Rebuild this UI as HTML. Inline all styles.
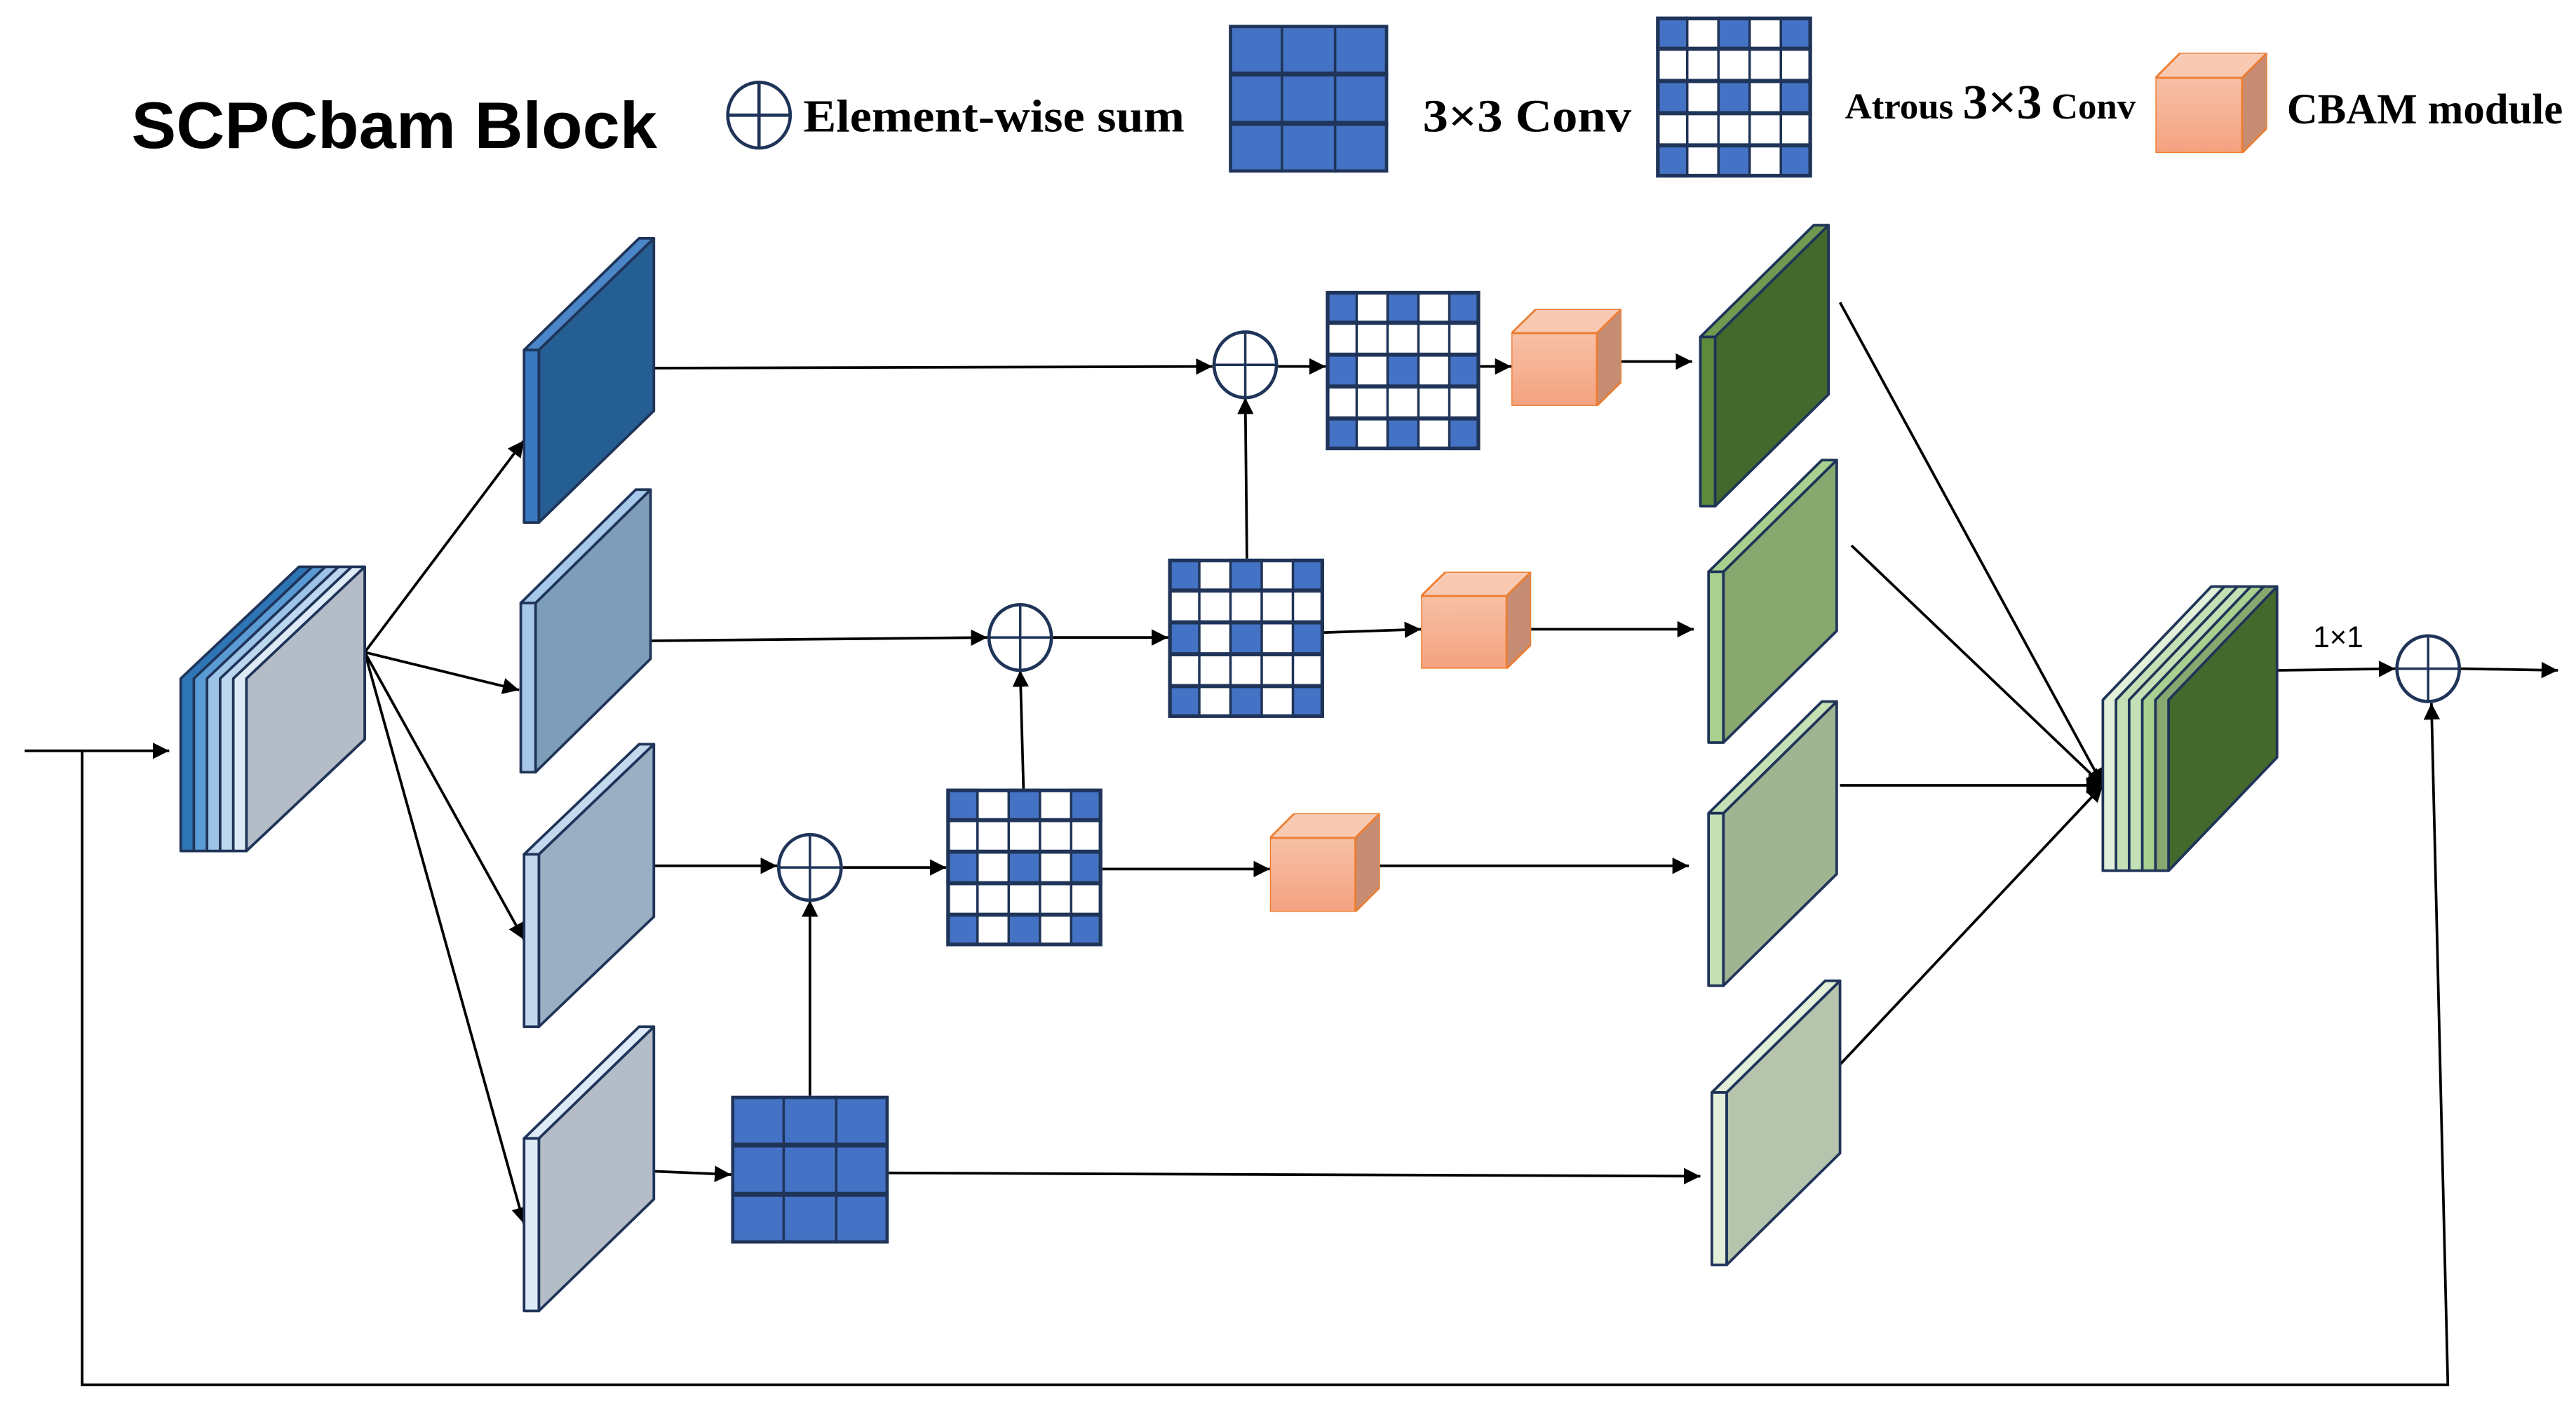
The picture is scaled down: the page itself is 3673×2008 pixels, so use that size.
<!DOCTYPE html>
<html><head><meta charset="utf-8"><style>html,body{margin:0;padding:0;background:#fff}svg{display:block}</style></head>
<body>
<svg xmlns="http://www.w3.org/2000/svg" width="3673" height="2008" viewBox="0 0 1568 857">
<defs>
<marker id="ar" viewBox="0 0 10 10" refX="10" refY="5" markerWidth="10" markerHeight="10" markerUnits="userSpaceOnUse" orient="auto"><path d="M0,0 L10,5 L0,10 z" fill="#000"/></marker>
<linearGradient id="cg" x1="0" y1="0" x2="0" y2="1"><stop offset="0" stop-color="#f7c0a6"/><stop offset="1" stop-color="#f4a27f"/></linearGradient>
<symbol id="atr" viewBox="0 0 95 97" preserveAspectRatio="none">
<rect x="0" y="0" width="95" height="97" fill="#fff"/>
<g fill="#4472c4">
<rect x="0" y="0" width="19" height="19.4"/><rect x="38" y="0" width="19" height="19.4"/><rect x="76" y="0" width="19" height="19.4"/>
<rect x="0" y="38.8" width="19" height="19.4"/><rect x="38" y="38.8" width="19" height="19.4"/><rect x="76" y="38.8" width="19" height="19.4"/>
<rect x="0" y="77.6" width="19" height="19.4"/><rect x="38" y="77.6" width="19" height="19.4"/><rect x="76" y="77.6" width="19" height="19.4"/>
</g>
<g stroke="#1f3458" stroke-width="1.5">
<line x1="19" y1="0" x2="19" y2="97"/><line x1="38" y1="0" x2="38" y2="97"/><line x1="57" y1="0" x2="57" y2="97"/><line x1="76" y1="0" x2="76" y2="97"/>
</g>
<g stroke="#1f3458" stroke-width="2.5">
<line x1="0" y1="19.4" x2="95" y2="19.4"/><line x1="0" y1="38.8" x2="95" y2="38.8"/><line x1="0" y1="58.2" x2="95" y2="58.2"/><line x1="0" y1="77.6" x2="95" y2="77.6"/>
</g>
<rect x="1" y="1" width="93" height="95" fill="none" stroke="#1f3458" stroke-width="2.5"/>
</symbol>
<symbol id="cv" viewBox="0 0 96 90" preserveAspectRatio="none">
<rect x="0" y="0" width="96" height="90" fill="#4472c4"/>
<g stroke="#1f3458" stroke-width="1.5"><line x1="32" y1="0" x2="32" y2="90"/><line x1="64" y1="0" x2="64" y2="90"/></g>
<g stroke="#1f3458" stroke-width="3"><line x1="0" y1="30" x2="96" y2="30"/><line x1="0" y1="60" x2="96" y2="60"/></g>
<rect x="1" y="1" width="94" height="88" fill="none" stroke="#1f3458" stroke-width="2"/>
</symbol>
<symbol id="cube" viewBox="0 0 67 60" preserveAspectRatio="none">
<polygon points="0,15 15,0 67,0 52,15" fill="#f8cab4" stroke="#ed7d31" stroke-width="1.2"/>
<polygon points="52,15 67,0 67,45 52,60" fill="#c68d74" stroke="#ed7d31" stroke-width="1.2"/>
<rect x="0" y="15" width="52" height="45" fill="url(#cg)" stroke="#ed7d31" stroke-width="1.2"/>
</symbol>
</defs>

<!-- Title & legend -->
<text x="80" y="90" font-family="Liberation Sans, sans-serif" font-weight="bold" font-size="40" textLength="320" lengthAdjust="spacingAndGlyphs">SCPCbam Block</text>
<g fill="none" stroke="#1f3458" stroke-width="2"><ellipse cx="462" cy="70" rx="19" ry="20"/><line x1="443" y1="70" x2="481" y2="70"/><line x1="462" y1="50" x2="462" y2="90"/></g>
<text x="489" y="80" font-family="Liberation Serif, serif" font-weight="bold" font-size="28" textLength="232" lengthAdjust="spacingAndGlyphs">Element-wise sum</text>
<use href="#cv" x="748" y="15" width="97" height="90"/>
<text x="866" y="80" font-family="Liberation Serif, serif" font-weight="bold" font-size="28" textLength="127" lengthAdjust="spacingAndGlyphs">3×3 Conv</text>
<use href="#atr" x="1008" y="10" width="95" height="98"/>
<text x="1123" y="72" font-family="Liberation Serif, serif" font-weight="bold" font-size="22" textLength="177" lengthAdjust="spacingAndGlyphs"><tspan>Atrous </tspan><tspan font-size="30">3×3</tspan><tspan> Conv</tspan></text>
<use href="#cube" x="1312" y="32" width="68" height="61"/>
<text x="1392" y="75" font-family="Liberation Serif, serif" font-weight="bold" font-size="26" textLength="168" lengthAdjust="spacingAndGlyphs">CBAM module</text>

<!-- connectors -->
<g stroke="#000" stroke-width="1.6" fill="none">
<line x1="15" y1="457" x2="103" y2="457" marker-end="url(#ar)"/>
<polyline points="50,457 50,843 1490,843 1480,428" marker-end="url(#ar)"/>
<line x1="222" y1="397" x2="319" y2="268" marker-end="url(#ar)"/>
<line x1="222" y1="397" x2="316" y2="420" marker-end="url(#ar)"/>
<line x1="222" y1="397" x2="319" y2="572" marker-end="url(#ar)"/>
<line x1="222" y1="397" x2="319" y2="745" marker-end="url(#ar)"/>
<line x1="398" y1="224" x2="738" y2="223" marker-end="url(#ar)"/>
<line x1="396" y1="390" x2="601" y2="388" marker-end="url(#ar)"/>
<line x1="398" y1="527" x2="473" y2="527" marker-end="url(#ar)"/>
<line x1="398" y1="713" x2="445" y2="715" marker-end="url(#ar)"/>
<line x1="513" y1="528" x2="576" y2="528" marker-end="url(#ar)"/>
<line x1="493" y1="667" x2="493" y2="548" marker-end="url(#ar)"/>
<line x1="541" y1="714" x2="1035" y2="716" marker-end="url(#ar)"/>
<line x1="623" y1="480" x2="621" y2="408" marker-end="url(#ar)"/>
<line x1="641" y1="388" x2="711" y2="388" marker-end="url(#ar)"/>
<line x1="671" y1="529" x2="773" y2="529" marker-end="url(#ar)"/>
<line x1="840" y1="527" x2="1028" y2="527" marker-end="url(#ar)"/>
<line x1="759" y1="340" x2="758" y2="242" marker-end="url(#ar)"/>
<line x1="806" y1="385" x2="865" y2="383" marker-end="url(#ar)"/>
<line x1="932" y1="383" x2="1031" y2="383" marker-end="url(#ar)"/>
<line x1="778" y1="223" x2="807" y2="223" marker-end="url(#ar)"/>
<line x1="901" y1="223" x2="920" y2="223" marker-end="url(#ar)"/>
<line x1="987" y1="220" x2="1030" y2="220" marker-end="url(#ar)"/>
<line x1="1120" y1="184" x2="1280" y2="478" marker-end="url(#ar)"/>
<line x1="1127" y1="332" x2="1280" y2="478" marker-end="url(#ar)"/>
<line x1="1120" y1="478" x2="1280" y2="478" marker-end="url(#ar)"/>
<line x1="1120" y1="648" x2="1280" y2="478" marker-end="url(#ar)"/>
<line x1="1386" y1="408" x2="1458" y2="407" marker-end="url(#ar)"/>
<line x1="1498" y1="407" x2="1557" y2="408" marker-end="url(#ar)"/>
</g>
<text x="1408" y="394" font-family="Liberation Sans, sans-serif" font-size="18">1×1</text>

<!-- sums -->
<g fill="#fff" stroke="#1f3458" stroke-width="2">
<ellipse cx="758" cy="222" rx="19" ry="20"/><ellipse cx="621" cy="388" rx="19" ry="20"/><ellipse cx="493" cy="528" rx="19" ry="20"/><ellipse cx="1478" cy="407" rx="19" ry="20"/>
</g>
<g stroke="#1f3458" stroke-width="1.5">
<line x1="739" y1="222" x2="777" y2="222"/><line x1="758" y1="202" x2="758" y2="242"/>
<line x1="602" y1="388" x2="640" y2="388"/><line x1="621" y1="368" x2="621" y2="408"/>
<line x1="474" y1="528" x2="512" y2="528"/><line x1="493" y1="508" x2="493" y2="548"/>
<line x1="1459" y1="407" x2="1497" y2="407"/><line x1="1478" y1="387" x2="1478" y2="427"/>
</g>

<!-- slabs -->
<g stroke="#1f3458" stroke-width="1.6" stroke-linejoin="round">
<polygon points="110,413 182,345 190,345 190,450 118,518 110,518" fill="#2e75b6"/>
<polygon points="118,413 190,345 198,345 198,450 126,518 118,518" fill="#5b9bd5"/>
<polygon points="126,413 198,345 206,345 206,450 134,518 126,518" fill="#9dc3e6"/>
<polygon points="134,413 206,345 214,345 214,450 142,518 134,518" fill="#bdd7ee"/>
<polygon points="142,413 214,345 222,345 222,450 150,518 142,518" fill="#deebf7"/>
<polygon points="150,413 222,345 222,450 150,518" fill="#b4bdc7"/>

<polygon points="328,213 398,145 398,250 328,318" fill="#255e92"/>
<polygon points="319,213 389,145 398,145 328,213" fill="#4a86c8"/>
<rect x="319" y="213" width="9" height="105" fill="#3a78c0"/>

<polygon points="326,367 396,298 396,401 326,470" fill="#7d9db8"/>
<polygon points="317,367 387,298 396,298 326,367" fill="#a7c8e8"/>
<rect x="317" y="367" width="9" height="103" fill="#a7c8e8"/>

<polygon points="328,520 398,453 398,558 328,625" fill="#9aafc4"/>
<polygon points="319,520 389,453 398,453 328,520" fill="#c5d9ee"/>
<rect x="319" y="520" width="9" height="105" fill="#c5d9ee"/>

<polygon points="328,693 398,625 398,730 328,798" fill="#b4bdc7"/>
<polygon points="319,693 389,625 398,625 328,693" fill="#deebf7"/>
<rect x="319" y="693" width="9" height="105" fill="#deebf7"/>

<polygon points="1044,205 1113,137 1113,240 1044,308" fill="#45692d"/>
<polygon points="1035,205 1104,137 1113,137 1044,205" fill="#6f9a4f"/>
<rect x="1035" y="205" width="9" height="103" fill="#5e8a3d"/>

<polygon points="1049,348 1118,280 1118,384 1049,452" fill="#88a870"/>
<polygon points="1040,348 1109,280 1118,280 1049,348" fill="#a9d08e"/>
<rect x="1040" y="348" width="9" height="104" fill="#a9d08e"/>

<polygon points="1049,495 1118,427 1118,532 1049,600" fill="#9fb592"/>
<polygon points="1040,495 1109,427 1118,427 1049,495" fill="#c5e0b4"/>
<rect x="1040" y="495" width="9" height="105" fill="#c5e0b4"/>

<polygon points="1051,665 1120,597 1120,702 1051,770" fill="#b6c4ae"/>
<polygon points="1042,665 1111,597 1120,597 1051,665" fill="#e2efd9"/>
<rect x="1042" y="665" width="9" height="105" fill="#e2efd9"/>

<polygon points="1280,426 1346,357 1354,357 1354,461 1288,530 1280,530" fill="#e2efd9"/>
<polygon points="1288,426 1354,357 1362,357 1362,461 1296,530 1288,530" fill="#c5e0b4"/>
<polygon points="1296,426 1362,357 1370,357 1370,461 1304,530 1296,530" fill="#c5e0b4"/>
<polygon points="1304,426 1370,357 1378,357 1378,461 1312,530 1304,530" fill="#a9d08e"/>
<polygon points="1312,426 1378,357 1386,357 1386,461 1320,530 1312,530" fill="#88a870"/>
<polygon points="1320,426 1386,357 1386,461 1320,530" fill="#45692d"/>
</g>

<use href="#atr" x="807" y="177" width="94" height="97"/>
<use href="#atr" x="711" y="340" width="95" height="97"/>
<use href="#atr" x="576" y="480" width="95" height="96"/>
<use href="#cv" x="445" y="667" width="96" height="90"/>
<use href="#cube" x="920" y="188" width="67" height="59"/>
<use href="#cube" x="865" y="348" width="67" height="59"/>
<use href="#cube" x="773" y="495" width="67" height="60"/>
</svg>
</body></html>
